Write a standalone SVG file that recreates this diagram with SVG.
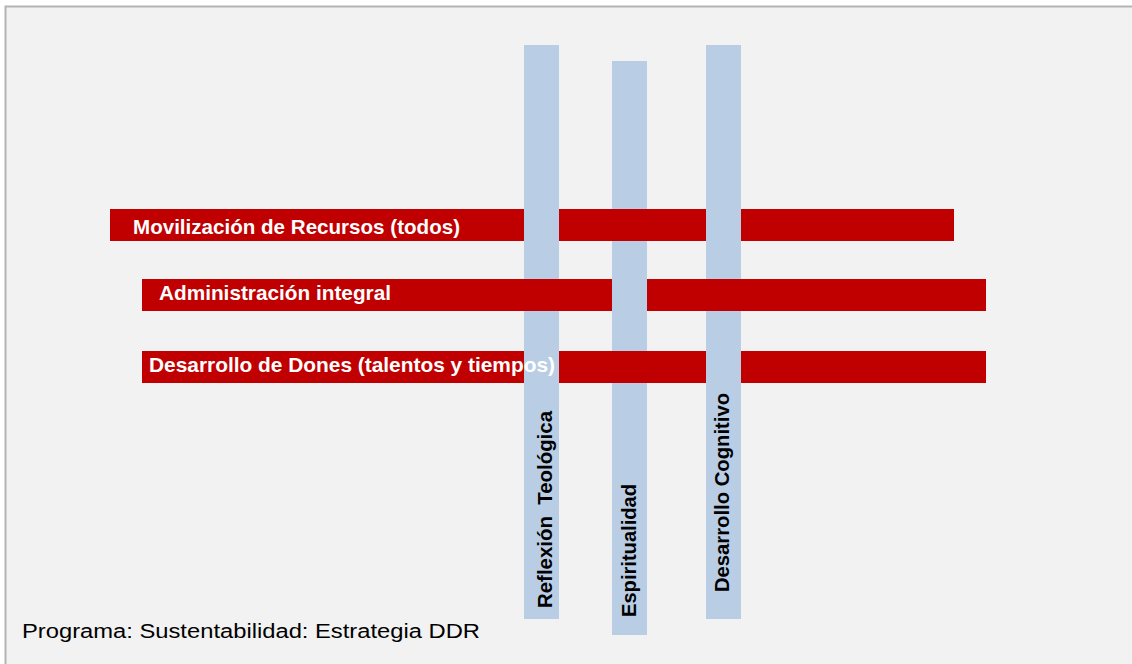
<svg xmlns="http://www.w3.org/2000/svg" width="1132" height="664" viewBox="0 0 1132 664">
<style>
.red{fill:#c00000}
.blue{fill:#b9cde5}
.lbl{font-family:"Liberation Sans",Arial,sans-serif;font-weight:bold;font-size:21px;fill:#ffffff}
.vlbl{font-family:"Liberation Sans",Arial,sans-serif;font-weight:bold;font-size:21px;fill:#000000}
.foot{font-family:"Liberation Sans",Arial,sans-serif;font-size:20px;fill:#000000}
</style>
<rect x="0" y="0" width="1132" height="664" fill="#ffffff"/>
<rect x="5.5" y="6.5" width="1140" height="670" fill="#f2f2f2" stroke="#b4b4b4" stroke-width="2"/>
<g id="connectors"></g>
<g id="red-bars-under">
<rect class="red" x="110" y="209" width="844" height="32"/>
<rect class="red" x="142" y="351" width="844" height="32"/>
</g>
<g id="col-reflexion">
<rect class="blue" x="524" y="45" width="35" height="574"/>
</g>
<g id="col-desarrollo-cognitivo">
<rect class="blue" x="706" y="45" width="35" height="574"/>
</g>
<g id="col-espiritualidad">
<rect class="blue" x="612" y="61" width="35" height="574"/>
</g>
<g id="bar-movilizacion">
<rect class="red" x="559" y="209" width="147" height="32"/>
<text class="lbl" x="133" y="234" textLength="327" lengthAdjust="spacingAndGlyphs">Movilización de Recursos (todos)</text>
</g>
<g id="bar-administracion">
<rect class="red" x="142" y="279" width="470" height="32"/>
<rect class="red" x="647" y="279" width="339" height="32"/>
<text class="lbl" x="159" y="300" textLength="232" lengthAdjust="spacingAndGlyphs">Administración integral</text>
</g>
<g id="bar-desarrollo-dones">
<rect class="red" x="559" y="351" width="147" height="32"/>
<text class="lbl" x="149" y="372" textLength="406" lengthAdjust="spacingAndGlyphs">Desarrollo de Dones (talentos y tiempos)</text>
</g>
<g id="label-reflexion">
<text class="vlbl" transform="translate(552,608) rotate(-90)" textLength="197" lengthAdjust="spacingAndGlyphs" xml:space="preserve">Reflexión  Teológica</text>
</g>
<g id="label-espiritualidad">
<text class="vlbl" transform="translate(636,617) rotate(-90)" textLength="133" lengthAdjust="spacingAndGlyphs">Espiritualidad</text>
</g>
<g id="label-desarrollo-cognitivo">
<text class="vlbl" transform="translate(729,592) rotate(-90)" textLength="199" lengthAdjust="spacingAndGlyphs">Desarrollo Cognitivo</text>
</g>
<g id="footer">
<text class="foot" x="22" y="638" textLength="458" lengthAdjust="spacingAndGlyphs">Programa: Sustentabilidad: Estrategia DDR</text>
</g>
</svg>
